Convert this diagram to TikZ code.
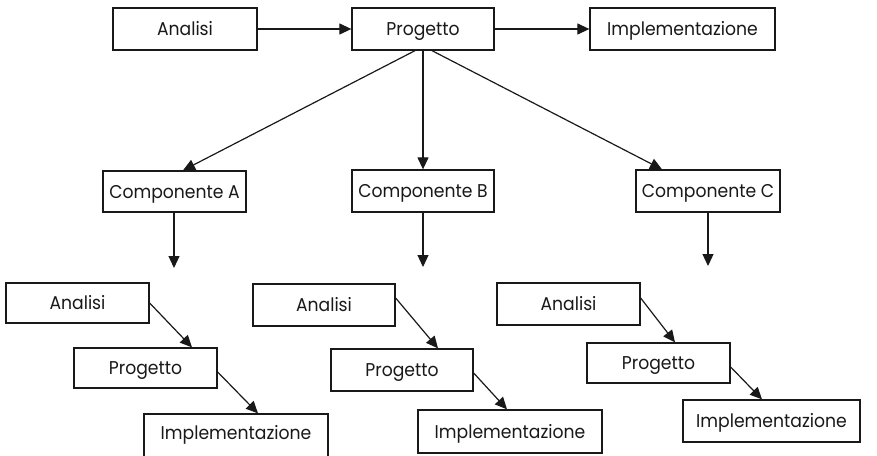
\documentclass[tikz,border=0pt]{standalone}
\usepackage{fontspec}
\setmainfont{Poppins}[FakeStretch=0.93]
\usetikzlibrary{arrows.meta}
\tikzset{
  box/.style={draw=black!90, line width=1.3pt, rectangle, inner sep=0pt, fill=white,
    font=\fontsize{18.5}{22}\selectfont, text=black!90, text height=13pt, text depth=0pt},
  conn/.style={draw=black!90, line width=1.2pt, -{Triangle[length=12pt,width=11pt]}}
}
\begin{document}
\begin{tikzpicture}[x=1pt,y=-1pt]
\clip (0,0) rectangle (877,455);
\useasboundingbox (0,0) rectangle (877,455);
% top row
\node[box, minimum width=144pt, minimum height=42pt] (tA) at (185,29) {Analisi};
\node[box, minimum width=142pt, minimum height=42pt] (tP) at (423,29) {Progetto};
\node[box, minimum width=185pt, minimum height=42pt] (tI) at (682.5,29) {Implementazione};
% components
\node[box, minimum width=143pt, minimum height=41pt] (cA) at (174.5,191.5) {Componente A};
\node[box, minimum width=142pt, minimum height=42pt] (cB) at (423,191) {Componente B};
\node[box, minimum width=144pt, minimum height=42pt] (cC) at (708,191) {Componente C};
% group A
\node[box, minimum width=143pt, minimum height=40pt] (aA) at (77.5,303) {Analisi};
\node[box, minimum width=143pt, minimum height=40pt] (aP) at (145.5,368) {Progetto};
\node[box, minimum width=184pt, minimum height=46pt] (aI) at (236,437) {\raisebox{4pt}{Implementazione}};
% group B
\node[box, minimum width=142pt, minimum height=42pt] (bA) at (324,305) {Analisi};
\node[box, minimum width=142pt, minimum height=42pt] (bP) at (402,370) {Progetto};
\node[box, minimum width=184pt, minimum height=43pt] (bI) at (510,431.5) {Implementazione};
% group C
\node[box, minimum width=143pt, minimum height=42pt] (gA) at (568.5,304) {Analisi};
\node[box, minimum width=143pt, minimum height=40pt] (gP) at (658.5,363) {Progetto};
\node[box, minimum width=177pt, minimum height=42pt] (gI) at (771.5,421) {Implementazione};
% free ends
\coordinate (eA) at (174,268);
\coordinate (eB) at (423,267);
\coordinate (eC) at (708,266);
% connectors
\draw[conn] (tA.east) -- (tP.west);
\draw[conn] (tP.east) -- (tI.west);
\draw[conn] ([xshift=-8pt]tP.south) -- ([xshift=8.5pt]cA.north);
\draw[conn] (tP.south) -- (cB.north);
\draw[conn] ([xshift=9pt]tP.south) -- ([xshift=-46pt]cC.north);
\draw[conn] ([xshift=-0.5pt]cA.south) -- (eA);
\draw[conn] (cB.south) -- (eB);
\draw[conn] (cC.south) -- (eC);
\draw[conn] (aA.east) -- ([xshift=46.5pt]aP.north);
\draw[conn] ([yshift=-4pt]aP.east) -- ([xshift=22pt]aI.north);
\draw[conn] ([yshift=7pt]bA.east) -- ([xshift=36pt]bP.north);
\draw[conn] ([yshift=-3pt]bP.east) -- ([xshift=-3pt]bI.north);
\draw[conn] ([yshift=6pt]gA.east) -- ([xshift=16.5pt]gP.north);
\draw[conn] ([yshift=-4pt]gP.east) -- ([xshift=-9.5pt]gI.north);
\end{tikzpicture}
\end{document}
